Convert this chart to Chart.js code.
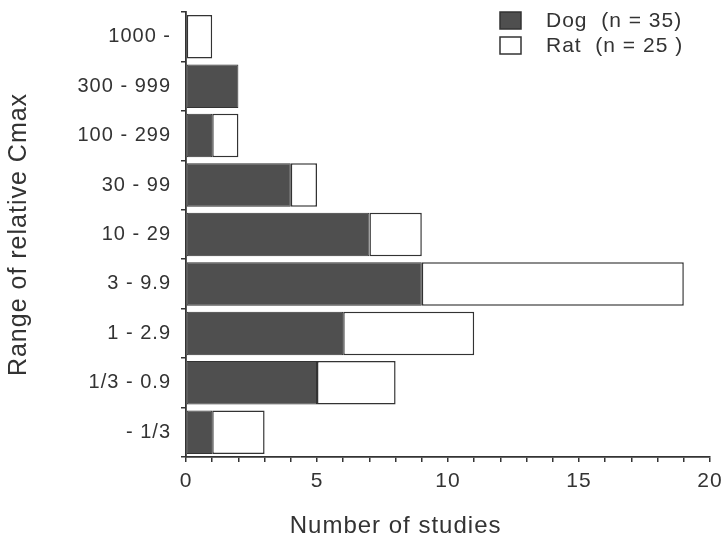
<!DOCTYPE html>
<html>
<head>
<meta charset="utf-8">
<script src="https://cdn.jsdelivr.net/npm/chart.js@4/dist/chart.umd.min.js"></script>
<style>
  html, body { margin: 0; padding: 0; background: #ffffff; }
  #wrap { width: 726px; height: 540px; position: relative; }
</style>
</head>
<body>
<div id="wrap"><canvas id="c" width="726" height="540"></canvas></div>
<script>
// Ranges of relative Cmax, listed top to bottom
const categories = ['1000 -', '300 - 999', '100 - 299', '30 - 99', '10 - 29', '3 - 9.9', '1 - 2.9', '1/3 - 0.9', '- 1/3'];
// Number of studies per range
const dogStudies = [0, 2, 1, 4, 7, 9, 6, 5, 1];
const ratStudies = [1, 0, 1, 1, 2, 10, 5, 3, 2];
const seriesNames = ['Dog  (n = 35)', 'Rat  (n = 25 )'];
const majorTicks = [0, 5, 10, 15, 20];
const xAxisTitle = 'Number of studies';
const yAxisTitle = 'Range of relative Cmax';

const FONT = 'Arial, "Liberation Sans", Helvetica, sans-serif';
const INK = '#333333';
const DARK = '#4f4f4f';

// Slightly open letter spacing for all canvas text
const spacing = {
  id: 'spacing',
  beforeUpdate(chart) { chart.ctx.letterSpacing = '1px'; },
  beforeDraw(chart) { chart.ctx.letterSpacing = '1px'; }
};

// Legend in the top-right corner plus the x-axis caption, set a little left of centre
const annotations = {
  id: 'annotations',
  afterDraw(chart) {
    const ctx = chart.ctx;
    ctx.save();
    ctx.letterSpacing = '1px';
    ctx.font = '21px ' + FONT;
    ctx.textBaseline = 'middle';
    ctx.textAlign = 'left';
    chart.data.datasets.forEach((ds, i) => {
      const x = 500, y = 12 + i * 25;
      ctx.fillStyle = ds.backgroundColor;
      ctx.fillRect(x, y, 21, 17);
      ctx.lineWidth = 1.5;
      ctx.strokeStyle = INK;
      ctx.strokeRect(x, y, 21, 17);
      ctx.fillStyle = INK;
      ctx.fillText(ds.label, 546, y + 9);
    });

    const xs = chart.scales.x;
    ctx.font = '24px ' + FONT;
    ctx.textAlign = 'center';
    ctx.fillStyle = INK;
    ctx.fillText(xAxisTitle, xs.getPixelForValue(8.0), 526);
    ctx.restore();
  }
};

new Chart(document.getElementById('c'), {
  type: 'bar',
  data: {
    labels: categories,
    datasets: [
      {
        label: seriesNames[0],
        data: dogStudies,
        backgroundColor: DARK,
        borderColor: INK,
        borderWidth: 1,
        borderSkipped: false,
        barPercentage: 0.88,
        categoryPercentage: 1.0
      },
      {
        label: seriesNames[1],
        data: ratStudies,
        backgroundColor: '#ffffff',
        borderColor: INK,
        borderWidth: 1.5,
        borderSkipped: false,
        barPercentage: 0.88,
        categoryPercentage: 1.0
      }
    ]
  },
  options: {
    indexAxis: 'y',
    responsive: false,
    animation: false,
    layout: { padding: { left: 0, right: 16, top: 12, bottom: 0 } },
    plugins: {
      legend: { display: false },
      tooltip: { enabled: false }
    },
    scales: {
      x: {
        stacked: true,
        min: 0,
        max: 20,
        afterFit(s) { s.height = 83; s.paddingLeft = 0; s.paddingRight = 0; },
        ticks: {
          stepSize: 1,
          autoSkip: false,
          maxRotation: 0,
          padding: 7,
          color: INK,
          font: { family: FONT, size: 21 },
          callback: (v) => (majorTicks.includes(v) ? String(v) : '')
        },
        grid: { drawOnChartArea: false, drawTicks: true, tickLength: 5, color: INK, lineWidth: 1.5 },
        border: { display: true, color: INK, width: 1.8 },
        title: { display: false }
      },
      y: {
        stacked: true,
        afterFit(s) { s.width = 186; s.paddingTop = 0; s.paddingBottom = 0; },
        ticks: {
          padding: 10,
          color: INK,
          font: { family: FONT, size: 20 }
        },
        grid: { offset: true, drawOnChartArea: false, drawTicks: true, tickLength: 5, color: INK, lineWidth: 1.5 },
        border: { display: true, color: INK, width: 1.8 },
        title: {
          display: true,
          text: yAxisTitle,
          color: INK,
          font: { family: FONT, size: 25 },
          padding: { top: 4, bottom: 0 }
        }
      }
    }
  },
  plugins: [spacing, annotations]
});
</script>
</body>
</html>
